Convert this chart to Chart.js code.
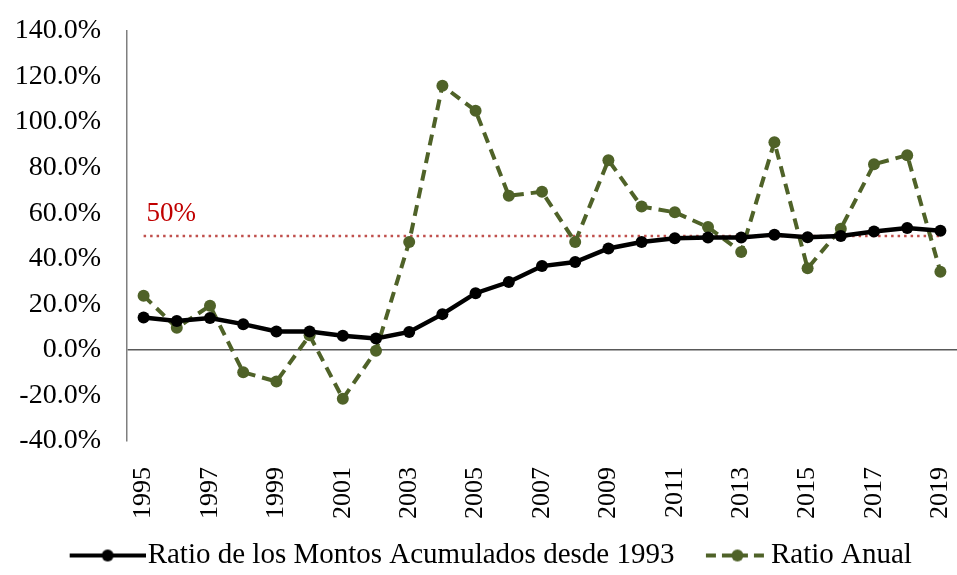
<!DOCTYPE html>
<html>
<head>
<meta charset="utf-8">
<script src="https://cdn.jsdelivr.net/npm/chart.js@4.4.1/dist/chart.umd.min.js"></script>
<style>
  html, body { margin: 0; padding: 0; background: #fff; }
  #wrap { width: 957px; height: 575px; }
</style>
</head>
<body>
<div id="wrap"><canvas id="ratioChart"></canvas></div>
<script>
// Años
const years = ['1995','1996','1997','1998','1999','2000','2001','2002','2003','2004','2005','2006',
               '2007','2008','2009','2010','2011','2012','2013','2014','2015','2016','2017','2018','2019'];

// Ratio de los montos acumulados desde 1993 (%)
const ratioAcumulado = [14.2, 12.7, 14.0, 11.3, 8.1, 8.1, 6.2, 5.0, 7.9, 15.7, 24.9, 29.8,
                        36.8, 38.6, 44.5, 47.4, 49.0, 49.3, 49.3, 50.6, 49.5, 50.0, 52.0, 53.5, 52.3];

// Ratio anual (%)
const ratioAnual = [23.8, 9.7, 19.4, -9.8, -13.9, 6.4, -21.4, -0.4, 47.4, 116.0, 105.0, 67.7,
                    69.4, 47.4, 83.3, 62.9, 60.4, 53.9, 43.0, 91.2, 35.8, 53.2, 81.5, 85.5, 34.3];

// Línea de referencia
const referencia = years.map(() => 50);

const green = '#4F6228';
const red = '#C00000';
const fontFam = '"Liberation Serif", "Times New Roman", serif';

// Icono de leyenda: línea con marcador (pegado a la derecha del lienzo)
function legendIcon(color, dashed) {
    const c = document.createElement('canvas');
    const len = dashed ? 63 : 76;
    c.width = 87; c.height = 14;
    const g = c.getContext('2d');
    const x0 = c.width - len;
    g.strokeStyle = color;
    g.lineWidth = 4;
    if (dashed) g.setLineDash([10, 6]);
    g.beginPath();
    g.moveTo(x0, 7); g.lineTo(c.width, 7);
    g.stroke();
    g.fillStyle = color;
    g.beginPath();
    g.arc(x0 + len / 2, 7, 6, 0, Math.PI * 2);
    g.fill();
    return c;
}

// Etiqueta "50%" sobre la línea punteada + ajuste de la leyenda
const refLabel = {
    id: 'refLabel',
    beforeLayout(chart) {
        const lg = chart.legend;
        if (lg && !lg._fixed) {
            const fit = lg.fit;
            lg.fit = function() { fit.call(this); this.height = 54; };
            lg._fixed = true;
        }
    },
    afterLayout(chart) {
        // la leyenda del original está algo desplazada a la derecha
        chart.legend.left += 7;
        chart.legend.right += 7;
    },
    afterDatasetsDraw(chart) {
        const x = chart.scales.x.getPixelForValue(0);
        const y = chart.scales.y.getPixelForValue(50);
        const ctx = chart.ctx;
        ctx.save();
        ctx.font = '27px ' + fontFam;
        ctx.fillStyle = red;
        ctx.textBaseline = 'alphabetic';
        ctx.fillText('50%', x + 3, y - 15);
        ctx.restore();
    }
};

function noPad(s) {
    s.paddingLeft = 0; s.paddingRight = 0;
    s.paddingTop = 0; s.paddingBottom = 0;
}

const ctx = document.getElementById('ratioChart').getContext('2d');

const ratioChart = new Chart(ctx, {
    type: 'line',
    data: {
        labels: years,
        datasets: [
            {
                label: 'Ratio de los Montos Acumulados desde 1993',
                data: ratioAcumulado,
                borderColor: '#000',
                backgroundColor: '#000',
                borderWidth: 4.5,
                pointRadius: 6,
                pointBorderWidth: 0,
                tension: 0,
                order: 1
            },
            {
                label: 'Ratio Anual',
                data: ratioAnual,
                borderColor: green,
                backgroundColor: green,
                borderWidth: 4,
                borderDash: [11, 7],
                pointRadius: 6,
                pointBorderWidth: 0,
                tension: 0,
                order: 2
            },
            {
                label: '50%',
                data: referencia,
                borderColor: '#C0504D',
                borderWidth: 2.5,
                borderDash: [2.5, 4],
                pointRadius: 0,
                order: 3
            }
        ]
    },
    options: {
        responsive: true,
        maintainAspectRatio: false,
        animation: false,
        layout: {
            autoPadding: false,
            padding: { top: 31, left: 12, right: 0, bottom: 0 }
        },
        scales: {
            x: {
                offset: true,
                grid: { display: false },
                border: { display: false },
                afterFit: (s) => { noPad(s); s.height = 80; },
                ticks: {
                    autoSkip: false,
                    minRotation: 90,
                    maxRotation: 90,
                    padding: 18,
                    color: '#000',
                    font: { family: fontFam, size: 26 },
                    callback: function(value, index) {
                        return index % 2 === 0 ? this.getLabelForValue(value) : '';
                    }
                }
            },
            y: {
                min: -40,
                max: 140,
                afterFit: (s) => { noPad(s); s.width = 115; },
                grid: {
                    drawTicks: false,
                    lineWidth: 1.5,
                    color: (c) => c.tick && c.tick.value === 0 ? '#595959' : 'rgba(0,0,0,0)'
                },
                border: { display: true, color: '#7f7f7f', width: 1.5 },
                ticks: {
                    stepSize: 20,
                    padding: 26,
                    color: '#000',
                    font: { family: fontFam, size: 28 },
                    callback: (v) => v.toFixed(1) + '%'
                }
            }
        },
        plugins: {
            legend: {
                position: 'bottom',
                labels: {
                    usePointStyle: true,
                    pointStyleWidth: 62,
                    padding: 20,
                    color: '#000',
                    font: { family: fontFam, size: 29 },
                    filter: (item) => item.datasetIndex < 2,
                    generateLabels: (chart) => chart.data.datasets.map((ds, i) => ({
                        text: ds.label,
                        datasetIndex: i,
                        pointStyle: legendIcon(ds.borderColor, i === 1),
                        fillStyle: ds.borderColor,
                        strokeStyle: ds.borderColor,
                        lineWidth: 0,
                        hidden: false
                    }))
                }
            },
            tooltip: { enabled: false }
        }
    },
    plugins: [refLabel]
});
</script>
</body>
</html>
